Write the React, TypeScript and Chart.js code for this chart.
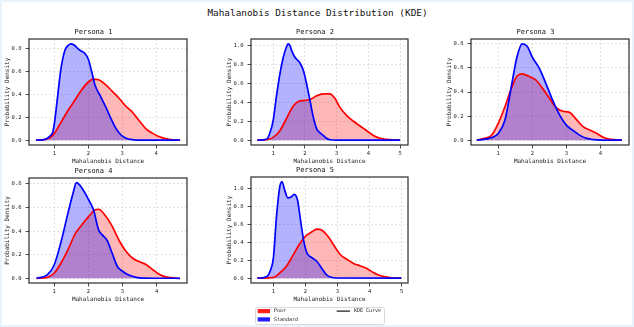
import React, { useEffect, useRef } from 'react';
import { Chart, registerables } from 'chart.js';

Chart.register(...registerables);

const FONT = "'DejaVu Sans Mono', 'Liberation Mono', monospace";

// ---------- data ----------
const MAIN_TITLE = 'Mahalanobis Distance Distribution (KDE)';
const X_LABEL = 'Mahalanobis Distance';
const Y_LABEL = 'Probability Density';
const SERIES_NAMES = ['Poor', 'Standard'];
const CURVE_NAME = 'KDE Curve';
const PANEL_TITLES = ['Persona 1', 'Persona 2', 'Persona 3', 'Persona 4', 'Persona 5'];

const X_TICKS_4 = [1, 2, 3, 4];
const X_TICKS_5 = [1, 2, 3, 4, 5];
const Y_TICKS_08 = [0, 0.2, 0.4, 0.6, 0.8];
const Y_TICKS_10 = [0, 0.2, 0.4, 0.6, 0.8, 1.0];

// Persona 1
const P1_STD_X = [0.46, 0.7, 0.8, 0.9, 0.95, 1.0, 1.05, 1.1, 1.15, 1.2, 1.3, 1.4, 1.5, 1.6, 1.7, 1.8, 1.9, 2.0, 2.1, 2.2, 2.35, 2.5, 2.65, 2.8, 2.95, 3.1, 3.3, 3.6, 4.7];
const P1_STD_Y = [0, 0.005, 0.02, 0.045, 0.07, 0.15, 0.27, 0.4, 0.53, 0.64, 0.78, 0.83, 0.845, 0.83, 0.8, 0.78, 0.76, 0.71, 0.6, 0.48, 0.39, 0.3, 0.2, 0.11, 0.05, 0.02, 0.005, 0, 0];
const P1_POOR_X = [0.46, 0.7, 0.85, 1.0, 1.2, 1.4, 1.6, 1.8, 2.0, 2.15, 2.3, 2.5, 2.7, 2.9, 3.1, 3.3, 3.5, 3.7, 3.9, 4.1, 4.3, 4.5, 4.7];
const P1_POOR_Y = [0, 0.005, 0.02, 0.06, 0.16, 0.26, 0.35, 0.44, 0.51, 0.535, 0.53, 0.49, 0.43, 0.37, 0.3, 0.245, 0.17, 0.1, 0.06, 0.03, 0.012, 0.004, 0.001];

// Persona 2
const P2_STD_X = [0.5, 0.79, 0.89, 1.0, 1.1, 1.21, 1.32, 1.4, 1.47, 1.53, 1.58, 1.68, 1.84, 1.95, 2.05, 2.16, 2.26, 2.37, 2.47, 2.58, 2.68, 2.79, 3.0, 5.0];
const P2_STD_Y = [0, 0.01, 0.07, 0.21, 0.46, 0.7, 0.88, 0.97, 1.02, 1.0, 0.95, 0.88, 0.82, 0.74, 0.6, 0.42, 0.25, 0.12, 0.08, 0.05, 0.02, 0.005, 0, 0];
const P2_POOR_X = [0.5, 0.79, 1.0, 1.21, 1.42, 1.63, 1.79, 2.0, 2.16, 2.37, 2.58, 2.79, 2.95, 3.1, 3.32, 3.53, 3.74, 3.95, 4.16, 4.37, 4.58, 4.79, 5.0];
const P2_POOR_Y = [0, 0.005, 0.03, 0.1, 0.23, 0.36, 0.41, 0.42, 0.43, 0.47, 0.49, 0.49, 0.44, 0.35, 0.26, 0.2, 0.15, 0.1, 0.05, 0.02, 0.008, 0.002, 0];

// Persona 3
const P3_STD_X = [0.37, 0.8, 1.0, 1.2, 1.4, 1.55, 1.7, 1.85, 2.0, 2.2, 2.4, 2.6, 2.8, 3.0, 3.2, 3.4, 3.6, 3.8, 4.0, 4.63];
const P3_STD_Y = [0, 0.02, 0.055, 0.17, 0.47, 0.69, 0.8, 0.78, 0.69, 0.6, 0.47, 0.33, 0.21, 0.125, 0.08, 0.04, 0.015, 0.005, 0.001, 0];
const P3_POOR_X = [0.37, 0.6, 0.8, 1.0, 1.2, 1.4, 1.55, 1.7, 1.9, 2.1, 2.3, 2.5, 2.7, 2.9, 3.1, 3.3, 3.5, 3.7, 3.9, 4.1, 4.3, 4.63];
const P3_POOR_Y = [0, 0.015, 0.04, 0.14, 0.28, 0.44, 0.53, 0.55, 0.53, 0.5, 0.43, 0.35, 0.27, 0.24, 0.23, 0.17, 0.11, 0.083, 0.055, 0.022, 0.007, 0];

// Persona 4
const P4_STD_X = [0.48, 0.8, 1.0, 1.2, 1.4, 1.55, 1.65, 1.8, 2.0, 2.15, 2.3, 2.4, 2.55, 2.7, 2.85, 3.0, 3.2, 3.4, 3.6, 4.68];
const P4_STD_Y = [0, 0.03, 0.115, 0.31, 0.55, 0.72, 0.81, 0.77, 0.67, 0.58, 0.41, 0.37, 0.32, 0.21, 0.1, 0.06, 0.025, 0.008, 0.002, 0];
const P4_POOR_X = [0.48, 0.8, 1.0, 1.2, 1.4, 1.6, 1.8, 2.0, 2.2, 2.3, 2.5, 2.7, 2.9, 3.1, 3.3, 3.5, 3.7, 3.9, 4.1, 4.3, 4.68];
const P4_POOR_Y = [0, 0.008, 0.045, 0.13, 0.24, 0.37, 0.45, 0.52, 0.58, 0.585, 0.53, 0.44, 0.32, 0.23, 0.17, 0.14, 0.115, 0.07, 0.03, 0.01, 0];

// Persona 5
const P5_STD_X = [0.5, 0.8, 0.9, 1.0, 1.1, 1.2, 1.27, 1.35, 1.45, 1.55, 1.65, 1.75, 1.85, 1.95, 2.05, 2.2, 2.35, 2.5, 2.65, 2.8, 3.0, 4.99];
const P5_STD_Y = [0, 0.02, 0.08, 0.23, 0.71, 1.03, 1.08, 0.99, 0.9, 0.91, 0.94, 0.88, 0.64, 0.41, 0.28, 0.23, 0.19, 0.115, 0.04, 0.01, 0.002, 0];
const P5_POOR_X = [0.5, 1.0, 1.2, 1.4, 1.6, 1.8, 2.0, 2.2, 2.35, 2.5, 2.7, 2.9, 3.1, 3.3, 3.5, 3.7, 3.9, 4.1, 4.3, 4.5, 4.7, 4.99];
const P5_POOR_Y = [0, 0.01, 0.06, 0.13, 0.25, 0.375, 0.47, 0.52, 0.55, 0.54, 0.47, 0.36, 0.26, 0.21, 0.165, 0.14, 0.11, 0.067, 0.033, 0.015, 0.005, 0];

// axis ranges per panel
const X_RANGES = [[0.25, 4.91], [0.3, 5.25], [0.2, 4.84], [0.26, 4.89], [0.3, 5.2]];
const Y_RANGES = [[-0.042, 0.887], [-0.051, 1.071], [-0.04, 0.84], [-0.04, 0.85], [-0.054, 1.134]];

// ---------- layout (positions only) ----------
const Y_AXIS_W = 29;
const X_AXIS_H = 22;
const TITLE_H = 13;
const PAD_R = 4;
const PLOT_BOXES = [
  { left: 29, top: 39, w: 158, h: 106 },
  { left: 251, top: 39, w: 157, h: 106 },
  { left: 471, top: 39, w: 158, h: 106 },
  { left: 29, top: 178, w: 158, h: 105 },
  { left: 251, top: 177, w: 157, h: 106 },
];

const pts = (xs: number[], ys: number[]) => xs.map((x, i) => ({ x, y: ys[i] }));

const PANELS = [
  { std: pts(P1_STD_X, P1_STD_Y), poor: pts(P1_POOR_X, P1_POOR_Y), xt: X_TICKS_4, yt: Y_TICKS_08 },
  { std: pts(P2_STD_X, P2_STD_Y), poor: pts(P2_POOR_X, P2_POOR_Y), xt: X_TICKS_5, yt: Y_TICKS_10 },
  { std: pts(P3_STD_X, P3_STD_Y), poor: pts(P3_POOR_X, P3_POOR_Y), xt: X_TICKS_4, yt: Y_TICKS_08 },
  { std: pts(P4_STD_X, P4_STD_Y), poor: pts(P4_POOR_X, P4_POOR_Y), xt: X_TICKS_4, yt: Y_TICKS_08 },
  { std: pts(P5_STD_X, P5_STD_Y), poor: pts(P5_POOR_X, P5_POOR_Y), xt: X_TICKS_5, yt: Y_TICKS_10 },
];

const spinesPlugin = {
  id: 'spines',
  afterDraw(chart: any) {
    const { ctx, chartArea: a } = chart;
    ctx.save();
    ctx.strokeStyle = '#3c3c3c';
    ctx.lineWidth = 1.3;
    ctx.strokeRect(a.left, a.top, a.right - a.left, a.bottom - a.top);
    ctx.restore();
  },
};

const gridOpts = {
  color: 'rgba(185,185,185,0.6)',
  lineWidth: 0.7,
  tickColor: '#333',
  tickLength: 3.5,
  tickWidth: 0.9,
  tickBorderDash: [],
};

function makeChart(canvas: HTMLCanvasElement, idx: number) {
  const p = PANELS[idx];
  return new Chart(canvas, {
    type: 'line',
    data: {
      datasets: [
        {
          label: SERIES_NAMES[1],
          data: p.std,
          borderColor: '#0000ff',
          backgroundColor: 'rgba(0,0,255,0.3)',
          fill: 'origin',
          borderWidth: 1.7,
          pointRadius: 0,
          cubicInterpolationMode: 'monotone',
          order: 1,
        },
        {
          label: SERIES_NAMES[0],
          data: p.poor,
          borderColor: '#ff0000',
          backgroundColor: 'rgba(255,0,0,0.28)',
          fill: 'origin',
          borderWidth: 1.7,
          pointRadius: 0,
          cubicInterpolationMode: 'monotone',
          order: 2,
        },
      ],
    } as any,
    options: {
      responsive: false,
      animation: false,
      events: [],
      layout: { padding: { left: 0, top: 0, right: PAD_R, bottom: 0 } },
      plugins: {
        legend: { display: false },
        tooltip: { enabled: false },
        filler: { drawTime: 'beforeDatasetsDraw' },
        title: {
          display: true,
          text: PANEL_TITLES[idx],
          color: '#111',
          font: { family: FONT, size: 7, weight: 'normal', lineHeight: '8px' } as any,
          padding: { top: 2, bottom: 3 },
        },
      },
      scales: {
        x: {
          type: 'linear',
          bounds: 'data',
          min: X_RANGES[idx][0],
          max: X_RANGES[idx][1],
          afterBuildTicks: (s: any) => {
            s.ticks = p.xt.map((v) => ({ value: v }));
          },
          afterFit: (s: any) => {
            s.height = X_AXIS_H;
          },
          ticks: {
            color: '#222',
            font: { family: FONT, size: 5.5 },
            padding: 2,
            maxRotation: 0,
            autoSkip: false,
            callback: (v: any) => String(v),
          },
          grid: gridOpts,
          border: { display: false, dash: [2, 2] },
          title: {
            display: true,
            text: X_LABEL,
            color: '#222',
            font: { family: FONT, size: 6 },
            padding: { top: 0, bottom: 2 },
          },
        },
        y: {
          type: 'linear',
          bounds: 'data',
          min: Y_RANGES[idx][0],
          max: Y_RANGES[idx][1],
          afterBuildTicks: (s: any) => {
            s.ticks = p.yt.map((v) => ({ value: v }));
          },
          afterFit: (s: any) => {
            s.width = Y_AXIS_W;
          },
          ticks: {
            color: '#222',
            font: { family: FONT, size: 5.5 },
            padding: 4,
            autoSkip: false,
            callback: (v: any) => Number(v).toFixed(1),
          },
          grid: gridOpts,
          border: { display: false, dash: [2, 2] },
          title: {
            display: true,
            text: Y_LABEL,
            color: '#222',
            font: { family: FONT, size: 6 },
            padding: { top: 4, bottom: 0 },
          },
        },
      },
    } as any,
    plugins: [spinesPlugin],
  });
}

function drawLegend(canvas: HTMLCanvasElement) {
  const ctx = canvas.getContext('2d');
  if (!ctx) return;
  ctx.clearRect(0, 0, canvas.width, canvas.height);
  ctx.save();
  ctx.fillStyle = 'rgba(255,255,255,0.85)';
  ctx.strokeStyle = '#cfcfcf';
  ctx.lineWidth = 0.8;
  ctx.beginPath();
  (ctx as any).roundRect(5.5, 2.5, 129, 17, 2);
  ctx.fill();
  ctx.stroke();
  ctx.fillStyle = '#ff2020';
  ctx.fillRect(7.7, 4, 12.3, 4.2);
  ctx.fillStyle = '#2020ff';
  ctx.fillRect(7.7, 12.3, 12.3, 4.2);
  ctx.strokeStyle = '#000';
  ctx.lineWidth = 1.1;
  ctx.beginPath();
  ctx.moveTo(86.7, 6.1);
  ctx.lineTo(100, 6.1);
  ctx.stroke();
  ctx.fillStyle = '#222';
  ctx.font = `5px ${FONT}`;
  ctx.textBaseline = 'middle';
  ctx.fillText(SERIES_NAMES[0], 24, 6.2);
  ctx.fillText(SERIES_NAMES[1], 24, 14.5);
  ctx.fillText(CURVE_NAME, 104, 6.2);
  ctx.restore();
}

export default function App() {
  const refs = useRef<(HTMLCanvasElement | null)[]>([]);
  const legendRef = useRef<HTMLCanvasElement | null>(null);

  useEffect(() => {
    document.body.style.margin = '0';
    const charts: Chart[] = [];
    PANELS.forEach((_, i) => {
      const c = refs.current[i];
      if (c) charts.push(makeChart(c, i));
    });
    if (legendRef.current) drawLegend(legendRef.current);
    return () => {
      charts.forEach((c) => c.destroy());
    };
  }, []);

  return (
    <div
      style={{
        position: 'fixed',
        left: 0,
        top: 0,
        width: 634,
        height: 327,
        background: '#ffffff',
        boxShadow: 'inset 0 0 0 2px #e8f3fb',
        overflow: 'hidden',
      }}
    >
      <div
        style={{
          position: 'absolute',
          left: 0,
          top: 7,
          width: 635,
          textAlign: 'center',
          fontFamily: FONT,
          fontSize: '9.4px',
          lineHeight: '11px',
          color: '#111',
          whiteSpace: 'nowrap',
        }}
      >
        {MAIN_TITLE}
      </div>
      {PLOT_BOXES.map((b, i) => {
        const w = Y_AXIS_W + b.w + PAD_R;
        const h = TITLE_H + b.h + X_AXIS_H;
        return (
          <canvas
            key={i}
            ref={(el) => {
              refs.current[i] = el;
            }}
            width={w}
            height={h}
            style={{
              position: 'absolute',
              left: b.left - Y_AXIS_W,
              top: b.top - TITLE_H,
              width: w,
              height: h,
            }}
          />
        );
      })}
      <canvas
        ref={legendRef}
        width={140}
        height={22}
        style={{ position: 'absolute', left: 250, top: 305, width: 140, height: 22 }}
      />
    </div>
  );
}
